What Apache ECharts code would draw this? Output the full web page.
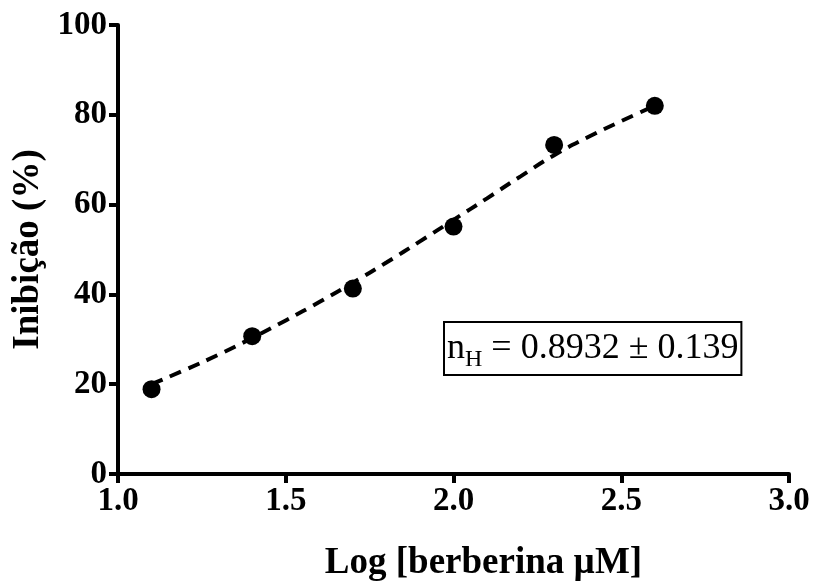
<!DOCTYPE html>
<html>
<head>
<meta charset="utf-8">
<script src="https://cdn.jsdelivr.net/npm/echarts@6/dist/echarts.min.js"></script>
<style>
  html, body { margin: 0; padding: 0; background: #fff; }
  #main { width: 818px; height: 587px; }
</style>
</head>
<body>
<div id="main"></div>
<script>
var myChart = echarts.init(document.getElementById('main'));

// pontos medidos: log [berberina] e inibição (%)
var logConc = [1.1, 1.4, 1.7, 2.0, 2.3, 2.6];
var inibicao = [18.9, 30.7, 41.3, 55.1, 73.3, 82.0];

// curva ajustada
var curvaX = [1.1, 1.2, 1.3, 1.4, 1.5, 1.6, 1.7, 1.8, 1.9, 2.0, 2.1, 2.2, 2.3, 2.4, 2.5, 2.6];
var curvaY = [20.0, 23.2, 26.6, 30.3, 34.2, 38.3, 42.6, 47.1, 51.8, 56.6, 61.4, 66.3, 71.0, 75.0, 78.6, 82.0];

var xTicks = [1.0, 1.5, 2.0, 2.5, 3.0];
var yTicks = [0, 20, 40, 60, 80, 100];

var pontos = logConc.map(function (x, i) { return [x, inibicao[i]]; });
var curva = curvaX.map(function (x, i) { return [x, curvaY[i]]; });

var fonte = 'Liberation Serif';

var option = {
  backgroundColor: '#fff',
  animation: false,
  grid: {
    left: 118,
    right: 29,
    top: 25,
    bottom: 112
  },
  xAxis: {
    type: 'value',
    min: xTicks[0],
    max: xTicks[xTicks.length - 1],
    interval: 0.5,
    name: 'Log [berberina µM]',
    nameLocation: 'middle',
    nameGap: 71,
    nameTextStyle: { fontFamily: fonte, fontWeight: 'bold', fontSize: 37, color: '#000', padding: [0, 0, 0, 60] },
    axisLine: { onZero: false, lineStyle: { color: '#000', width: 4 } },
    axisTick: { length: 9, lineStyle: { color: '#000', width: 4 } },
    axisLabel: {
      margin: 11,
      fontFamily: fonte, fontWeight: 'bold', fontSize: 33, color: '#000',
      formatter: function (v) { return v.toFixed(1); }
    },
    splitLine: { show: false }
  },
  yAxis: {
    type: 'value',
    min: yTicks[0],
    max: yTicks[yTicks.length - 1],
    interval: 20,
    name: 'Inibição (%)',
    nameLocation: 'middle',
    nameGap: 70,
    nameTextStyle: { fontFamily: fonte, fontWeight: 'bold', fontSize: 37, color: '#000' },
    axisLine: { show: true, onZero: false, lineStyle: { color: '#000', width: 4 } },
    axisTick: { show: true, length: 9, lineStyle: { color: '#000', width: 4 } },
    axisLabel: {
      margin: 11,
      fontFamily: fonte, fontWeight: 'bold', fontSize: 33, color: '#000'
    },
    splitLine: { show: false }
  },
  graphic: [
    {
      type: 'text',
      left: 443,
      top: 321,
      style: {
        text: '{m|n}{s|H}{m| = 0.8932 ± 0.139}',
        fill: '#000',
        borderColor: '#000',
        borderWidth: 2,
        padding: [4, 3, 3, 3],
        rich: {
          m: { fontFamily: fonte, fontSize: 36, color: '#000', lineHeight: 46 },
          s: { fontFamily: fonte, fontSize: 24, color: '#000', lineHeight: 46, verticalAlign: 'bottom', padding: [16, 0, 0, 0] }
        }
      }
    }
  ],
  series: [
    {
      type: 'line',
      data: curva,
      smooth: true,
      showSymbol: false,
      symbol: 'none',
      lineStyle: { color: '#000', width: 4, type: [12, 8] },
      z: 2
    },
    {
      type: 'scatter',
      data: pontos,
      symbol: 'circle',
      symbolSize: 18,
      itemStyle: { color: '#000', opacity: 1 },
      z: 3
    }
  ]
};

option && myChart.setOption(option);
</script>
</body>
</html>
